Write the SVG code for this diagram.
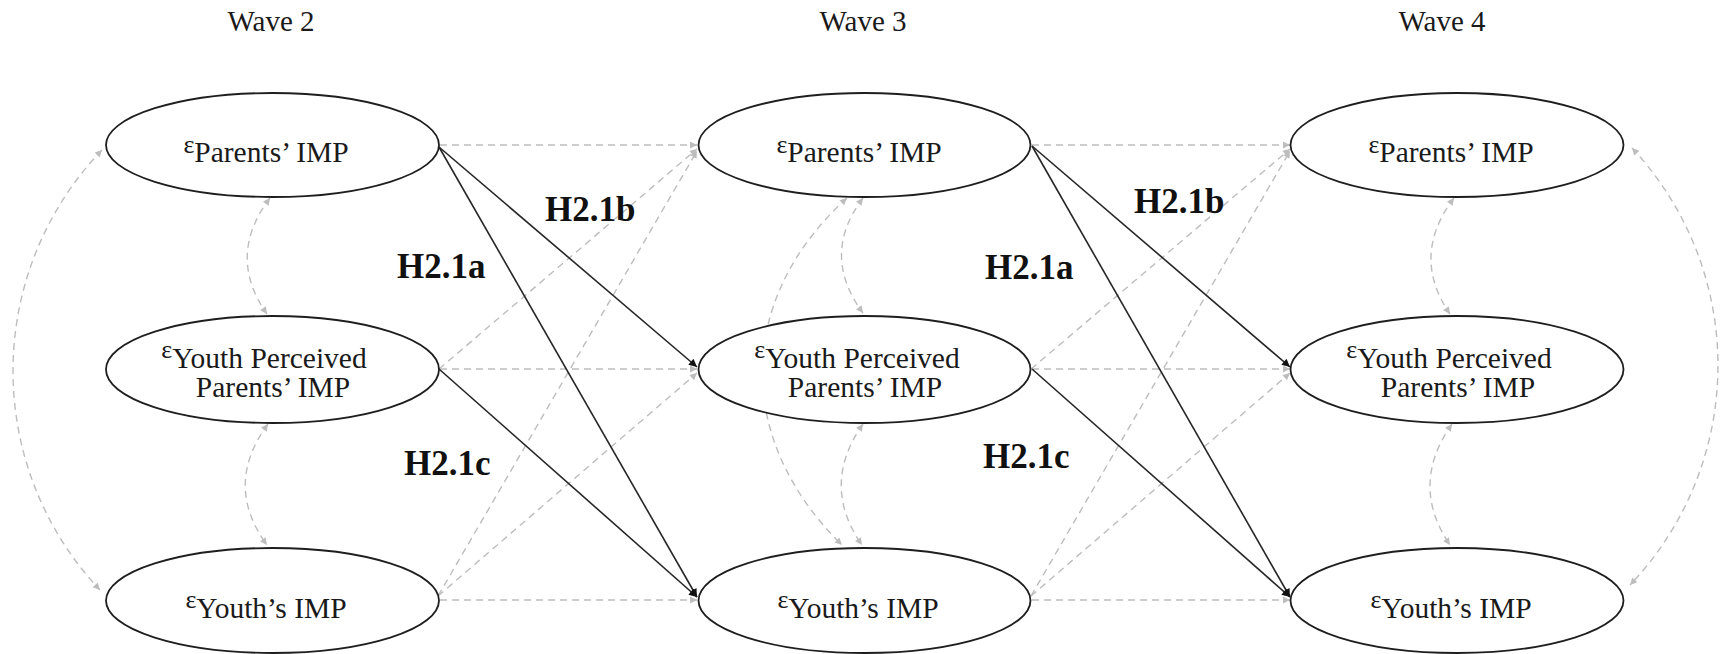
<svg xmlns="http://www.w3.org/2000/svg" width="1721" height="654" viewBox="0 0 1721 654">
<style>
.node ellipse{fill:#fff;stroke:#1e1e1e;stroke-width:1.8}
.lbl{font-family:"Liberation Serif","Times New Roman",serif;font-size:29.5px;fill:#1a1a1a}
.eps{font-size:26px}
.wave{font-family:"Liberation Serif","Times New Roman",serif;font-size:29px;fill:#1a1a1a;text-anchor:middle}
.hyp{font-family:"Liberation Serif","Times New Roman",serif;font-size:35px;font-weight:bold;fill:#111}
.solid{fill:none;stroke:#262626;stroke-width:1.6;marker-end:url(#ab)}
.dash{fill:none;stroke:#bdbdbd;stroke-width:1.4;stroke-dasharray:7 5;marker-end:url(#ag)}
.dash2{fill:none;stroke:#bdbdbd;stroke-width:1.4;stroke-dasharray:7 5;marker-end:url(#ag);marker-start:url(#ag)}
</style>
<defs>
<marker id="ab" viewBox="0 0 10 10" refX="10" refY="5" markerWidth="10" markerHeight="8" markerUnits="userSpaceOnUse" orient="auto-start-reverse">
<path d="M0,0 L10,5 L0,10 z" fill="#111"/>
</marker>
<marker id="ag" viewBox="0 0 10 10" refX="10" refY="5" markerWidth="9" markerHeight="7" markerUnits="userSpaceOnUse" orient="auto-start-reverse">
<path d="M0,0 L10,5 L0,10 z" fill="#bdbdbd"/>
</marker>
</defs>

<g id="titles">
<text class="wave" x="271" y="31">Wave 2</text>
<text class="wave" x="863" y="31">Wave 3</text>
<text class="wave" x="1442" y="31">Wave 4</text>
</g>

<g id="connectors">
<!-- horizontal autoregressive paths -->
<path class="dash" d="M440,145 L697,145"/>
<path class="dash" d="M440,369 L697,369"/>
<path class="dash" d="M440,600 L697,600"/>
<path class="dash" d="M1032,145 L1290,145"/>
<path class="dash" d="M1032,369 L1290,369"/>
<path class="dash" d="M1032,600 L1290,600"/>
<!-- dashed cross-lagged -->
<path class="dash" d="M439,369 L697,149"/>
<path class="dash" d="M438,596 L697,151"/>
<path class="dash" d="M438,596 L697,373"/>
<path class="dash" d="M1031,369 L1290,149"/>
<path class="dash" d="M1031,596 L1290,151"/>
<path class="dash" d="M1031,596 L1290,373"/>
<!-- within-wave covariances -->
<path class="dash2" d="M270,198 Q226,256 267,314"/>
<path class="dash2" d="M268,424 Q223,485 267,545"/>
<path class="dash2" d="M863,198 Q820,255 863,313"/>
<path class="dash2" d="M863,424 Q820,485 862,545"/>
<path class="dash2" d="M847,198 C735,300 735,440 842,545"/>
<path class="dash2" d="M1454,198 Q1410,256 1450,314"/>
<path class="dash2" d="M1452,424 Q1409,485 1450,545"/>
<path class="dash2" d="M102,150 A319,319 0 0 0 100,590"/>
<path class="dash2" d="M1632,148 A318,318 0 0 1 1630,585"/>
<!-- hypothesised paths -->
<path class="solid" d="M439,147 L697,367"/>
<path class="solid" d="M439,147 L697,597"/>
<path class="solid" d="M439,369 L697,597"/>
<path class="solid" d="M1032,146 L1290,367"/>
<path class="solid" d="M1032,146 L1290,597"/>
<path class="solid" d="M1032,369 L1290,597"/>
</g>

<g id="labels">
<text class="hyp" x="545" y="221">H2.1b</text>
<text class="hyp" x="397" y="278">H2.1a</text>
<text class="hyp" x="404" y="475">H2.1c</text>
<text class="hyp" x="1134" y="213">H2.1b</text>
<text class="hyp" x="985" y="279">H2.1a</text>
<text class="hyp" x="983" y="468">H2.1c</text>
</g>

<g id="w2-parents" class="node">
<ellipse cx="272.5" cy="145" rx="166.5" ry="52"/>
<text class="lbl" x="266" y="162" text-anchor="middle"><tspan class="eps" dy="-9">ε</tspan><tspan dy="9">Parents’ IMP</tspan></text>
</g>
<g id="w2-ypp" class="node">
<ellipse cx="272.5" cy="369.5" rx="166.5" ry="53.5"/>
<text class="lbl" x="264" y="368" text-anchor="middle"><tspan class="eps" dy="-10">ε</tspan><tspan dy="10">Youth Perceived</tspan></text>
<text class="lbl" x="273" y="397" text-anchor="middle">Parents’ IMP</text>
</g>
<g id="w2-youth" class="node">
<ellipse cx="272.5" cy="600.5" rx="166.5" ry="52.5"/>
<text class="lbl" x="266" y="618" text-anchor="middle"><tspan class="eps" dy="-10">ε</tspan><tspan dy="10">Youth’s IMP</tspan></text>
</g>

<g id="w3-parents" class="node">
<ellipse cx="864.5" cy="145" rx="166" ry="52"/>
<text class="lbl" x="859" y="162" text-anchor="middle"><tspan class="eps" dy="-9">ε</tspan><tspan dy="9">Parents’ IMP</tspan></text>
</g>
<g id="w3-ypp" class="node">
<ellipse cx="864.5" cy="369.5" rx="166" ry="53.5"/>
<text class="lbl" x="857" y="368" text-anchor="middle"><tspan class="eps" dy="-10">ε</tspan><tspan dy="10">Youth Perceived</tspan></text>
<text class="lbl" x="865" y="397" text-anchor="middle">Parents’ IMP</text>
</g>
<g id="w3-youth" class="node">
<ellipse cx="864.5" cy="600.5" rx="166" ry="52.5"/>
<text class="lbl" x="858" y="618" text-anchor="middle"><tspan class="eps" dy="-10">ε</tspan><tspan dy="10">Youth’s IMP</tspan></text>
</g>

<g id="w4-parents" class="node">
<ellipse cx="1457" cy="145" rx="166.5" ry="52"/>
<text class="lbl" x="1451" y="162" text-anchor="middle"><tspan class="eps" dy="-9">ε</tspan><tspan dy="9">Parents’ IMP</tspan></text>
</g>
<g id="w4-ypp" class="node">
<ellipse cx="1457" cy="369.5" rx="166.5" ry="53.5"/>
<text class="lbl" x="1449" y="368" text-anchor="middle"><tspan class="eps" dy="-10">ε</tspan><tspan dy="10">Youth Perceived</tspan></text>
<text class="lbl" x="1458" y="397" text-anchor="middle">Parents’ IMP</text>
</g>
<g id="w4-youth" class="node">
<ellipse cx="1457" cy="600.5" rx="166.5" ry="52.5"/>
<text class="lbl" x="1451" y="618" text-anchor="middle"><tspan class="eps" dy="-10">ε</tspan><tspan dy="10">Youth’s IMP</tspan></text>
</g>
</svg>
